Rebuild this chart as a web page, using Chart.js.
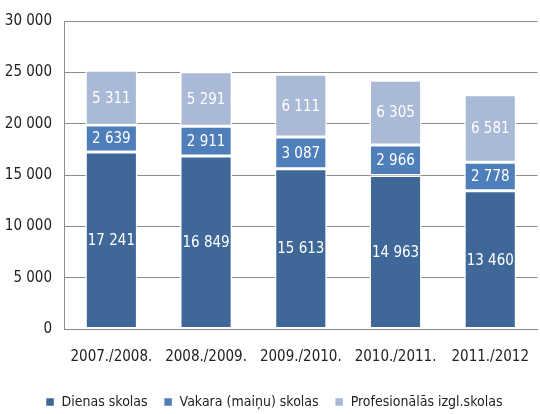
<!DOCTYPE html>
<html>
<head>
<meta charset="utf-8">
<script src="https://cdn.jsdelivr.net/npm/chart.js@4"></script>
<style>
  html, body { margin: 0; padding: 0; background: #fff; overflow: hidden; }
  #wrap { width: 548px; height: 414px; }
</style>
</head>
<body>
<div id="wrap"><canvas id="skolas"></canvas></div>
<script>
const years = ["2007./2008.", "2008./2009.", "2009./2010.", "2010./2011.", "2011./2012"];
const dienas = [17241, 16849, 15613, 14963, 13460];
const vakara = [2639, 2911, 3087, 2966, 2778];
const profesionalas = [5311, 5291, 6111, 6305, 6581];
const yTicks = [0, 5000, 10000, 15000, 20000, 25000, 30000];

const FONT = "'Liberation Sans Narrow', 'DejaVu Sans Condensed', sans-serif";

// space as thousands separator, like "17 241"
function fmt(v) {
  return String(v).replace(/\B(?=(\d{3})+(?!\d))/g, " ");
}

// white numbers in the middle of every segment
const segLabels = {
  id: "segLabels",
  afterDatasetsDraw(chart) {
    const ctx = chart.ctx;
    ctx.save();
    ctx.fillStyle = "#fff";
    ctx.font = "15px " + FONT;
    ctx.textAlign = "center";
    ctx.textBaseline = "middle";
    chart.data.datasets.forEach((ds, i) => {
      chart.getDatasetMeta(i).data.forEach((bar, j) => {
        const mid = (bar.y + bar.base) / 2;
        ctx.fillText(fmt(ds.data[j]), bar.x, mid + 1);
      });
    });
    ctx.restore();
  }
};

new Chart("skolas", {
  type: "bar",
  data: {
    labels: years,
    datasets: [
      { label: "Dienas skolas", data: dienas, backgroundColor: "#3F6899" },
      { label: "Vakara (maiņu) skolas", data: vakara, backgroundColor: "#4E7FBB" },
      { label: "Profesionālās izgl.skolas", data: profesionalas, backgroundColor: "#A9B9D6" }
    ].map(d => Object.assign(d, {
      borderColor: "#fff",
      borderWidth: 1.5,
      borderSkipped: false,
      categoryPercentage: 1,
      barPercentage: 0.55
    }))
  },
  options: {
    responsive: true,
    maintainAspectRatio: false,
    animation: false,
    layout: { padding: { top: 20, left: 0, right: 0, bottom: -5 } },
    plugins: {
      legend: {
        position: "bottom",
        labels: {
          font: { family: FONT, size: 14 },
          color: "#222",
          boxWidth: 9,
          boxHeight: 9,
          padding: 16
        }
      },
      tooltip: { enabled: false }
    },
    scales: {
      x: {
        stacked: true,
        grid: { display: false, drawTicks: false },
        border: { color: "#888" },
        ticks: { font: { family: FONT, size: 15 }, color: "#222", padding: 19 },
        afterFit(s) { s.height = 50; }
      },
      y: {
        stacked: true,
        min: 0,
        max: 30000,
        afterBuildTicks(s) { s.ticks = yTicks.map(v => ({ value: v })); },
        grid: { color: "#8c8c8c", drawTicks: false },
        border: { color: "#8c8c8c" },
        ticks: {
          font: { family: FONT, size: 15 },
          color: "#222",
          padding: 12,
          callback: v => fmt(v)
        },
        afterFit(s) { s.width = 64; }
      }
    }
  },
  plugins: [segLabels]
});
</script>
</body>
</html>
